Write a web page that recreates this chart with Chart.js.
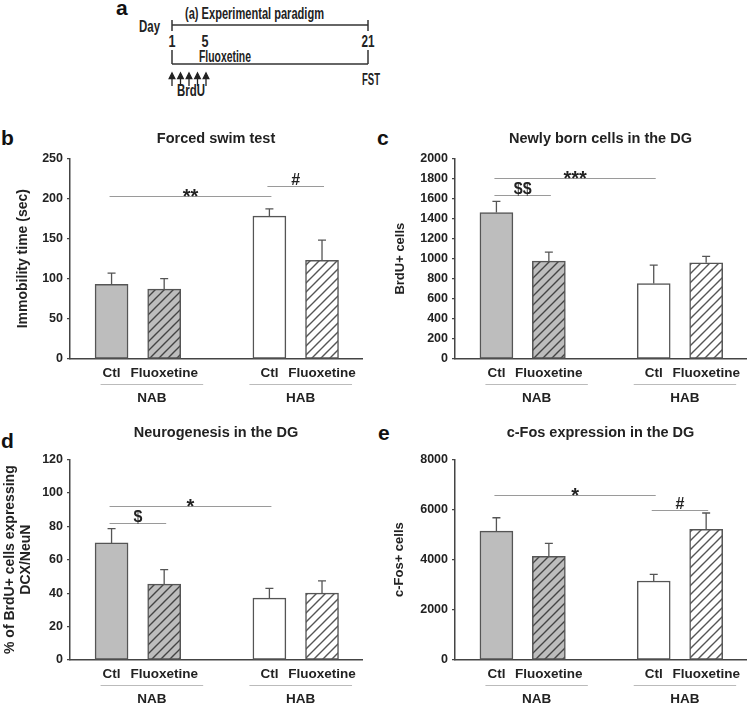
<!DOCTYPE html>
<html>
<head>
<meta charset="utf-8">
<script src="https://cdn.jsdelivr.net/npm/chart.js@4.4.1/dist/chart.umd.min.js"></script>
<style>
  body { margin: 0; background: #fff; width: 751px; height: 707px; position: relative; overflow: hidden; font-family: "Liberation Sans", Arial, sans-serif; }
  canvas { position: absolute; }
  .letter { position: absolute; font-weight: bold; font-size: 21px; line-height: 1; color: #111; }
  svg { position: absolute; left: 0; top: 0; }
  svg text { font-family: "Liberation Sans", Arial, sans-serif; font-weight: bold; fill: #222; }
</style>
</head>
<body>

<svg width="751" height="130">
  <text x="185" y="19" font-size="17" textLength="139" lengthAdjust="spacingAndGlyphs">(a) Experimental paradigm</text>
  <text x="139" y="32" font-size="16" textLength="21" lengthAdjust="spacingAndGlyphs">Day</text>
  <line x1="172" y1="25" x2="368" y2="25" stroke="#333" stroke-width="1.5"/>
  <line x1="172" y1="20" x2="172" y2="31" stroke="#333" stroke-width="1.5"/>
  <line x1="368" y1="20" x2="368" y2="31" stroke="#333" stroke-width="1.5"/>
  <text x="172" y="47" font-size="16" text-anchor="middle" textLength="7" lengthAdjust="spacingAndGlyphs">1</text>
  <text x="205" y="47" font-size="16" text-anchor="middle" textLength="7" lengthAdjust="spacingAndGlyphs">5</text>
  <text x="368" y="47" font-size="16" text-anchor="middle" textLength="13" lengthAdjust="spacingAndGlyphs">21</text>
  <text x="199" y="62" font-size="16" textLength="52" lengthAdjust="spacingAndGlyphs">Fluoxetine</text>
  <line x1="172" y1="64" x2="368" y2="64" stroke="#333" stroke-width="1.5"/>
  <line x1="172" y1="50" x2="172" y2="64" stroke="#333" stroke-width="1.5"/>
  <line x1="368" y1="50" x2="368" y2="64" stroke="#333" stroke-width="1.5"/>
  <g id="arrows" stroke="#222" stroke-width="1.3" fill="#222"></g>
  <text x="177" y="96" font-size="16" textLength="28" lengthAdjust="spacingAndGlyphs">BrdU</text>
  <text x="362" y="85" font-size="16" textLength="18" lengthAdjust="spacingAndGlyphs">FST</text>
</svg>

<div class="letter" style="left:116px;top:-3px">a</div>
<div class="letter" style="left:1px;top:127px">b</div>
<div class="letter" style="left:377px;top:127px">c</div>
<div class="letter" style="left:1px;top:430px">d</div>
<div class="letter" style="left:378px;top:422px">e</div>

<canvas id="swimChart" width="375" height="285" style="left:0;top:130px"></canvas>
<canvas id="brduChart" width="376" height="285" style="left:375px;top:130px"></canvas>
<canvas id="neuroChart" width="375" height="292" style="left:0;top:415px"></canvas>
<canvas id="fosChart" width="376" height="292" style="left:375px;top:415px"></canvas>

<script>
// categories
const treatments = ["Ctl", "Fluoxetine", "Ctl", "Fluoxetine"];
const barPos = [0, 1, 3, 4];
const groupNames = ["NAB", "HAB"];
const groupBars = [[0, 1], [2, 3]];

// b: forced swim test
const swimMean = [93, 87, 178, 123];
const swimSem = [14, 13, 9, 25];
const swimTicks = [0, 50, 100, 150, 200, 250];
const swimSig = [[0, 2, 203, "**"], [2, 3, 215, "#"]];

// c: newly born cells
const brduMean = [1460, 975, 752, 958];
const brduSem = [110, 90, 183, 64];
const brduTicks = [0, 200, 400, 600, 800, 1000, 1200, 1400, 1600, 1800, 2000];
const brduSig = [[0, 2, 1806, "***"], [0, 1, 1631, "$$"]];

// d: neurogenesis
const neuroMean = [70, 45.4, 37, 40];
const neuroSem = [8.5, 8.6, 5.8, 7.3];
const neuroTicks = [0, 20, 40, 60, 80, 100, 120];
const neuroSig = [[0, 2, 92.3, "*"], [0, 1, 81.7, "$"]];

// e: c-Fos
const fosMean = [5140, 4130, 3150, 5210];
const fosSem = [530, 520, 265, 650];
const fosTicks = [0, 2000, 4000, 6000, 8000];
const fosSig = [[0, 2, 6565, "*"], [2, 3, 5993, "#"]];

const FONT = '"Liberation Sans", Arial, sans-serif';
const INK = "#222";

// BrdU arrows in the paradigm sketch
const arrows = document.getElementById("arrows");
[172, 180.5, 189, 197.5, 206].forEach((x) => {
  arrows.innerHTML += `<line x1="${x}" y1="86" x2="${x}" y2="76"/>` +
    `<polygon points="${x - 2.8},${78.5} ${x},${73} ${x + 2.8},${78.5}"/>`;
});

function hatch(bg, fg) {
  const c = document.createElement("canvas");
  c.width = c.height = 9;
  const g = c.getContext("2d");
  g.fillStyle = bg;
  g.fillRect(0, 0, 9, 9);
  g.strokeStyle = fg;
  g.lineWidth = 1.4;
  g.beginPath();
  g.moveTo(0, 9); g.lineTo(9, 0);
  g.moveTo(-1, 1); g.lineTo(1, -1);
  g.moveTo(8, 10); g.lineTo(10, 8);
  g.stroke();
  return g.createPattern(c, "repeat");
}

const fills = ["#bdbdbd", hatch("#bdbdbd", "#444"), "#ffffff", hatch("#ffffff", "#555")];
const groupSpan = [[-11, 39], [-20, 30]];

function extras(cfg) {
  return {
    id: "extras",
    afterDatasetsDraw(chart) {
      const { ctx, chartArea: area, scales: { x, y } } = chart;
      ctx.save();

      // error bars (upper half only)
      ctx.strokeStyle = "#555";
      ctx.lineWidth = 1.3;
      cfg.means.forEach((m, i) => {
        const px = x.getPixelForValue(barPos[i]);
        const y0 = y.getPixelForValue(m);
        const y1 = y.getPixelForValue(m + cfg.sems[i]);
        ctx.beginPath();
        ctx.moveTo(px, y0); ctx.lineTo(px, y1);
        ctx.moveTo(px - 4, y1); ctx.lineTo(px + 4, y1);
        ctx.stroke();
      });

      // significance bars
      cfg.sig.forEach(([a, b, v, label]) => {
        const x0 = x.getPixelForValue(barPos[a]) - 2;
        const x1 = x.getPixelForValue(barPos[b]) + 2;
        const py = Math.round(y.getPixelForValue(v)) + 0.5;
        ctx.strokeStyle = "#9a9a9a";
        ctx.lineWidth = 1.2;
        ctx.beginPath();
        ctx.moveTo(x0, py); ctx.lineTo(x1, py);
        ctx.stroke();
        const star = label.includes("*");
        ctx.fillStyle = INK;
        ctx.font = `bold ${star ? 20 : 16}px ${FONT}`;
        ctx.textAlign = "center";
        ctx.textBaseline = "alphabetic";
        ctx.fillText(label, (x0 + x1) / 2, star ? py + 6 : py - 2);
      });

      // group labels under the axis
      groupBars.forEach((bars, g) => {
        const x0 = x.getPixelForValue(barPos[bars[0]]) + groupSpan[g][0];
        const x1 = x.getPixelForValue(barPos[bars[1]]) + groupSpan[g][1];
        const ly = area.bottom + 25.5;
        ctx.strokeStyle = "#bbb";
        ctx.lineWidth = 1.2;
        ctx.beginPath();
        ctx.moveTo(x0, ly); ctx.lineTo(x1, ly);
        ctx.stroke();
        ctx.fillStyle = INK;
        ctx.font = `bold 13.5px ${FONT}`;
        ctx.textAlign = "center";
        ctx.textBaseline = "middle";
        ctx.fillText(groupNames[g], (x0 + x1) / 2, area.bottom + 39);
      });

      // panel title
      ctx.fillStyle = INK;
      ctx.font = `bold 14.5px ${FONT}`;
      ctx.textAlign = "center";
      ctx.textBaseline = "middle";
      ctx.fillText(cfg.title, (area.left + area.right) / 2, cfg.titleY);

      // y axis title
      ctx.font = `bold ${cfg.yTitleSize}px ${FONT}`;
      cfg.yTitle.forEach((line, k) => {
        ctx.save();
        ctx.translate(cfg.yTitleX[k], (area.top + area.bottom) / 2);
        ctx.rotate(-Math.PI / 2);
        ctx.fillText(line, 0, 0);
        ctx.restore();
      });

      ctx.restore();
    },
  };
}

function makeChart(id, cfg) {
  return new Chart(document.getElementById(id), {
    type: "bar",
    data: {
      datasets: [{
        data: barPos.map((v, i) => ({ x: v, y: cfg.means[i] })),
        backgroundColor: fills,
        borderColor: "#555",
        borderWidth: 1.5,
        borderSkipped: false,
        barThickness: 33,
      }],
    },
    options: {
      responsive: false,
      animation: false,
      layout: { padding: { top: cfg.top, right: cfg.right, left: 0, bottom: 0 } },
      plugins: { legend: { display: false }, tooltip: { enabled: false } },
      scales: {
        x: {
          type: "linear",
          offset: false,
          min: -0.79,
          max: 4.76,
          grid: { display: false, drawTicks: false },
          border: { color: "#444", width: 1.5 },
          afterBuildTicks: (s) => { s.ticks = barPos.map((v) => ({ value: v })); },
          afterFit: (s) => { s.height = cfg.xHeight; },
          ticks: {
            autoSkip: false,
            maxRotation: 0,
            padding: 6,
            color: INK,
            font: { family: FONT, size: 13.5, weight: "bold" },
            callback: (v, i) => treatments[i],
          },
        },
        y: {
          min: 0,
          max: cfg.ticks[cfg.ticks.length - 1],
          afterBuildTicks: (s) => { s.ticks = cfg.ticks.map((v) => ({ value: v })); },
          afterFit: (s) => { s.width = cfg.yWidth; },
          grid: { drawOnChartArea: false, tickLength: 3, color: "#444", lineWidth: 1.2 },
          border: { color: "#444", width: 1.5 },
          ticks: {
            padding: 4,
            color: INK,
            font: { family: FONT, size: 12.5, weight: "bold" },
            callback: (v) => String(v),
          },
        },
      },
    },
    plugins: [extras(cfg)],
  });
}

makeChart("swimChart", {
  means: swimMean, sems: swimSem, ticks: swimTicks, sig: swimSig,
  title: "Forced swim test", titleY: 8.5,
  yTitle: ["Immobility time (sec)"], yTitleX: [23], yTitleSize: 14,
  top: 28.3, right: 13, yWidth: 70, xHeight: 56,
});

makeChart("brduChart", {
  means: brduMean, sems: brduSem, ticks: brduTicks, sig: brduSig,
  title: "Newly born cells in the DG", titleY: 9,
  yTitle: ["BrdU+ cells"], yTitleX: [25], yTitleSize: 13,
  top: 28.3, right: 5, yWidth: 80, xHeight: 56,
});

makeChart("neuroChart", {
  means: neuroMean, sems: neuroSem, ticks: neuroTicks, sig: neuroSig,
  title: "Neurogenesis in the DG", titleY: 18,
  yTitle: ["% of BrdU+ cells expressing", "DCX/NeuN"], yTitleX: [10, 26], yTitleSize: 14,
  top: 44.3, right: 13, yWidth: 70, xHeight: 47,
});

makeChart("fosChart", {
  means: fosMean, sems: fosSem, ticks: fosTicks, sig: fosSig,
  title: "c-Fos expression in the DG", titleY: 17.5,
  yTitle: ["c-Fos+ cells"], yTitleX: [24], yTitleSize: 13,
  top: 44.3, right: 5, yWidth: 80, xHeight: 47,
});
</script>
</body>
</html>
